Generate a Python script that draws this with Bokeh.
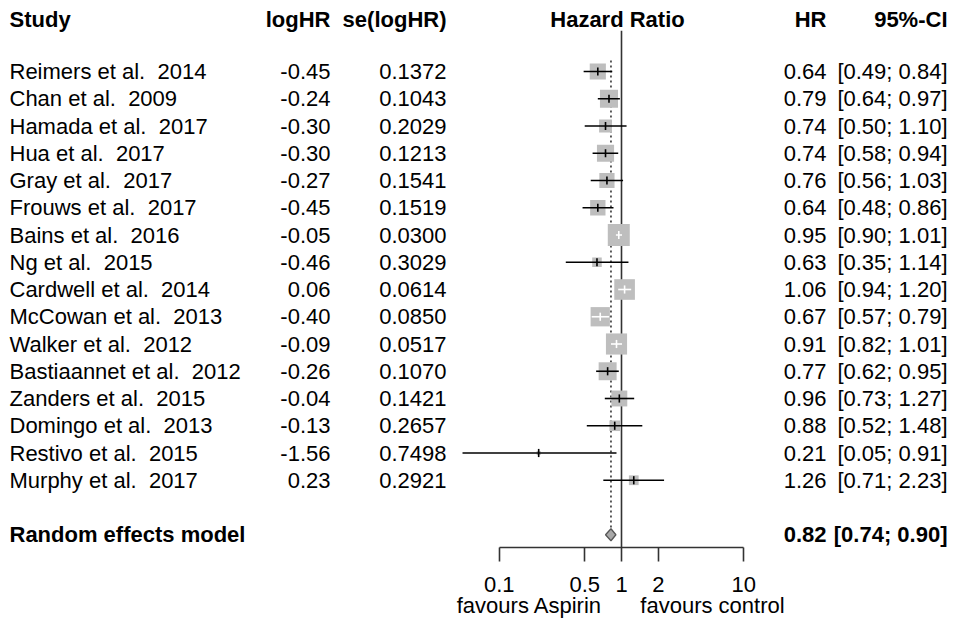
import math
from bokeh.plotting import figure
from bokeh.models import Range1d, FixedTicker, CustomJSTickFormatter
from bokeh.models import ColumnDataSource
from bokeh.core.properties import value
from bokeh.embed import file_html
from bokeh.resources import INLINE

# ---------------- data ----------------
studies = ["Reimers et al.\u00a0 2014", "Chan et al.\u00a0 2009", "Hamada et al.\u00a0 2017",
           "Hua et al.\u00a0 2017", "Gray et al.\u00a0 2017", "Frouws et al.\u00a0 2017",
           "Bains et al.\u00a0 2016", "Ng et al.\u00a0 2015", "Cardwell et al.\u00a0 2014",
           "McCowan et al.\u00a0 2013", "Walker et al.\u00a0 2012", "Bastiaannet et al.\u00a0 2012",
           "Zanders et al.\u00a0 2015", "Domingo et al.\u00a0 2013", "Restivo et al.\u00a0 2015",
           "Murphy et al.\u00a0 2017"]
loghr = [-0.45, -0.24, -0.30, -0.30, -0.27, -0.45, -0.05, -0.46, 0.06, -0.40, -0.09, -0.26,
         -0.04, -0.13, -1.56, 0.23]
se_loghr = [0.1372, 0.1043, 0.2029, 0.1213, 0.1541, 0.1519, 0.0300, 0.3029, 0.0614, 0.0850,
            0.0517, 0.1070, 0.1421, 0.2657, 0.7498, 0.2921]
hr = [0.64, 0.79, 0.74, 0.74, 0.76, 0.64, 0.95, 0.63, 1.06, 0.67, 0.91, 0.77, 0.96, 0.88, 0.21, 1.26]
ci_lower = [0.49, 0.64, 0.50, 0.58, 0.56, 0.48, 0.90, 0.35, 0.94, 0.57, 0.82, 0.62, 0.73, 0.52, 0.05, 0.71]
ci_upper = [0.84, 0.97, 1.10, 0.94, 1.03, 0.86, 1.01, 1.14, 1.20, 0.79, 1.01, 0.95, 1.27, 1.48, 0.91, 2.23]
weights = [6.3, 7.9, 4.0, 7.1, 5.6, 5.7, 11.7, 2.2, 10.3, 9.0, 10.8, 7.8, 6.1, 2.7, 0.4, 2.3]

re_label = "Random effects model"
re_hr = 0.82
re_lower = 0.74
re_upper = 0.90

tick_values = [0.1, 0.5, 1, 2, 10]
label_left = "favours Aspirin"
label_right = "favours control"

headers = ["Study", "logHR", "se(logHR)", "Hazard Ratio", "HR", "95%-CI"]

# ---------------- layout helpers ----------------
W, H = 949, 618
X1 = 621.0          # px of HR = 1
PPD = 122.2         # pixels per decade
ROW0 = 71.0         # y of first study row
DY = 27.25          # row spacing (px)


def fx(px):
    return 10 ** ((px - X1) / PPD)


def row_at(py):
    return (py - ROW0) / DY


FONT = value("Liberation Sans")
FS = "22px"

p = figure(width=W, height=H, output_backend="svg", toolbar_location=None,
           x_axis_type="log", y_axis_type=None,
           x_range=Range1d(fx(0), fx(W)), y_range=Range1d(row_at(H), row_at(0)),
           min_border_left=0, min_border_right=0, min_border_top=0, min_border_bottom=0)
p.grid.visible = False
p.outline_line_color = None
p.background_fill_color = "white"
p.border_fill_color = "white"

n = len(studies)
rows = list(range(n))
re_row = n + 1
axis_row = row_at(547)

# reference lines
p.segment(x0=[1], y0=[-1.5], x1=[1], y1=[axis_row], line_color="#333333", line_width=1.6)
p.segment(x0=[re_hr], y0=[-0.4], x1=[re_hr], y1=[re_row - 0.22], line_color="#333333",
          line_width=1.6, line_dash="2 3")

# squares (area proportional to weight)
sizes = [6.43 * math.sqrt(w) for w in weights]
p.scatter(x=hr, y=rows, marker="square", size=sizes, fill_color="#BEBEBE", line_color=None)

# CI lines: white when fully inside the square, black otherwise
inside = [PPD * math.log10(u / l) < s for u, l, s in zip(ci_upper, ci_lower, sizes)]
colors = ["white" if i else "black" for i in inside]
src = ColumnDataSource(dict(lo=ci_lower, up=ci_upper, est=hr, y=rows,
                            y0=[r - 0.15 for r in rows], y1=[r + 0.15 for r in rows], c=colors))
p.segment(x0="lo", y0="y", x1="up", y1="y", line_color="c", line_width=1.6, source=src)
p.segment(x0="est", y0="y0", x1="est", y1="y1", line_color="c", line_width=1.6, source=src)

# diamond
p.patch(x=[re_lower, re_hr, re_upper, re_hr], y=[re_row, re_row - 0.22, re_row, re_row + 0.22],
        fill_color="#A8A8A8", line_color="#555555", line_width=1.3)


# ---------------- text columns ----------------
def col(xs, ys, texts, align, bold=False):
    p.text(x=xs, y=ys, text=texts, text_align=align, text_baseline="middle",
           text_font=FONT, text_font_size=FS, text_color="black",
           text_font_style="bold" if bold else "normal")


hy = -1.91
x_study, x_log, x_se, x_hrlab, x_hr, x_ci = fx(9), fx(330), fx(446), fx(617), fx(826), fx(947)

col([x_study], [hy], [headers[0]], "left", True)
col([x_log], [hy], [headers[1]], "right", True)
col([x_se], [hy], [headers[2]], "right", True)
col([x_hrlab], [hy], [headers[3]], "center", True)
col([x_hr], [hy], [headers[4]], "right", True)
col([x_ci], [hy], [headers[5]], "right", True)

col([x_study] * n, rows, studies, "left")
col([x_log] * n, rows, [f"{v:.2f}" for v in loghr], "right")
col([x_se] * n, rows, [f"{v:.4f}" for v in se_loghr], "right")
col([x_hr] * n, rows, [f"{v:.2f}" for v in hr], "right")
col([x_ci] * n, rows, [f"[{l:.2f}; {u:.2f}]" for l, u in zip(ci_lower, ci_upper)], "right")

col([x_study], [re_row], [re_label], "left", True)
col([x_hr], [re_row], [f"{re_hr:.2f}"], "right", True)
col([x_ci], [re_row], [f"[{re_lower:.2f}; {re_upper:.2f}]"], "right", True)

# favours labels under the axis
col([fx(529), fx(712)], [row_at(605), row_at(605)], [label_left, label_right], "center")

# ---------------- axis (drawn inside the frame at a fixed location) ----------------
ax = p.xaxis[0]
ax.fixed_location = axis_row
ax.ticker = FixedTicker(ticks=tick_values)
ax.formatter = CustomJSTickFormatter(code="return tick.toString();")
ax.bounds = (tick_values[0], tick_values[-1])
ax.major_tick_out = 14
ax.major_tick_in = 0
ax.minor_tick_out = 0
ax.minor_tick_in = 0
ax.axis_line_color = "#333333"
ax.axis_line_width = 1.6
ax.major_tick_line_color = "#333333"
ax.major_tick_line_width = 1.6
ax.major_label_standoff = 15
ax.major_label_text_font = "Liberation Sans"
ax.major_label_text_font_size = FS
ax.major_label_text_color = "black"

open("out.html", "w").write(file_html(p, INLINE))
